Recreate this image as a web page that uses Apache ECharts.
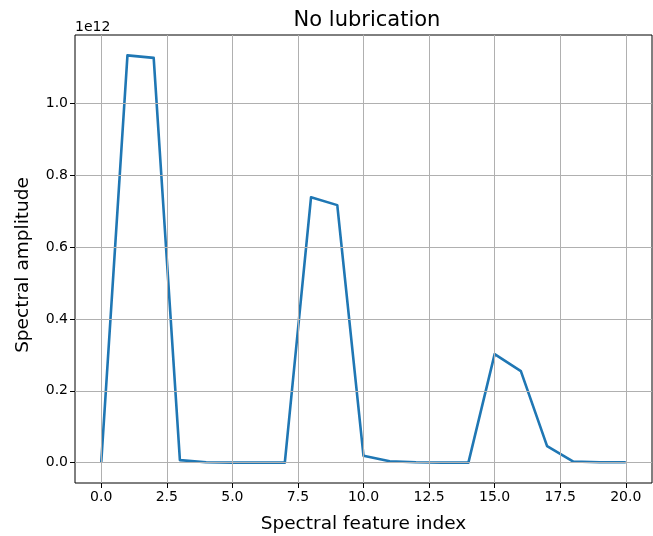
<!DOCTYPE html>
<html>
<head>
<meta charset="utf-8">
<script src="https://cdn.jsdelivr.net/npm/echarts@6/dist/echarts.min.js"></script>
<style>html,body{margin:0;padding:0;background:#fff}#c{width:653px;height:536px}</style>
</head>
<body>
<div id="c"></div>
<script>
// Data (amplitude in absolute units)
const featureIndex = [0,1,2,3,4,5,6,7,8,9,10,11,12,13,14,15,16,17,18,19,20];
const amplitude = [0, 1.134e12, 1.127e12, 0.007e12, 0.001e12, 0, 0, 0, 0.739e12, 0.717e12, 0.019e12, 0.004e12, 0.001e12, 0, 0, 0.302e12, 0.255e12, 0.046e12, 0.003e12, 0.001e12, 0.001e12];
const xTicks = [0, 2.5, 5, 7.5, 10, 12.5, 15, 17.5, 20];
const yTicks = [0, 0.2e12, 0.4e12, 0.6e12, 0.8e12, 1.0e12];
const titleText = 'No lubrication';
const xLabel = 'Spectral feature index';
const yLabel = 'Spectral amplitude';
const offsetText = '1e12';

const font = 'DejaVu Sans';
const chart = echarts.init(document.getElementById('c'), null, {renderer: 'canvas'});
const ymaxData = Math.max(...amplitude), yminData = Math.min(...amplitude);
const ym = (ymaxData - yminData) * 0.05;
const gridLines = xTicks.map(v => ({xAxis: v})).concat(yTicks.map(v => ({yAxis: v})));
chart.setOption({
  animation: false,
  backgroundColor: '#fff',
  title: [
    {text: titleText, left: 362, textAlign: 'center', top: 5,
     textStyle: {fontFamily: font, fontSize: 21, fontWeight: 'normal', color: '#000'}},
    {text: offsetText, left: 75, top: 20, padding: 0,
     textStyle: {fontFamily: font, fontSize: 14, fontWeight: 'normal', color: '#000'}}
  ],
  grid: {left: 75, right: 1, top: 35, bottom: 53, show: true, borderColor: '#000', borderWidth: 1,
    backgroundColor: 'transparent', containLabel: false, outerBoundsMode: 'none'},
  xAxis: {
    type: 'value', min: -1, max: 21,
    name: xLabel, nameLocation: 'middle', nameGap: 32,
    nameTextStyle: {fontFamily: font, fontSize: 18.5, color: '#000'},
    axisLine: {show: false, onZero: false},
    axisTick: {show: true, inside: false, length: 5, customValues: xTicks, lineStyle: {color: '#000'}},
    axisLabel: {customValues: xTicks, fontFamily: font, fontSize: 14, color: '#000', margin: 7,
      formatter: v => v.toFixed(1)},
    splitLine: {show: false}
  },
  yAxis: {
    type: 'value', min: yminData - ym, max: ymaxData + ym,
    name: yLabel, nameLocation: 'middle', nameGap: 42,
    nameTextStyle: {fontFamily: font, fontSize: 18.5, color: '#000', padding: [0, 12, 0, 0]},
    axisLine: {show: false, onZero: false},
    axisTick: {show: true, inside: false, length: 5, customValues: yTicks, lineStyle: {color: '#000'}},
    axisLabel: {customValues: yTicks, fontFamily: font, fontSize: 14, color: '#000', margin: 7,
      formatter: v => (v / 1e12).toFixed(1)},
    splitLine: {show: false}
  },
  series: [{
    type: 'line', z: 1, data: [], silent: true,
    markLine: {silent: true, symbol: ['none', 'none'], label: {show: false},
      lineStyle: {color: '#b0b0b0', width: 1, type: 'solid'}, emphasis: {disabled: true},
      animation: false, data: gridLines}
  }, {
    type: 'line', z: 3,
    data: featureIndex.map((x, i) => [x, amplitude[i]]),
    showSymbol: false,
    lineStyle: {color: '#1f77b4', width: 2.6, join: 'round'},
    itemStyle: {color: '#1f77b4'}
  }]
});
</script>
</body>
</html>
